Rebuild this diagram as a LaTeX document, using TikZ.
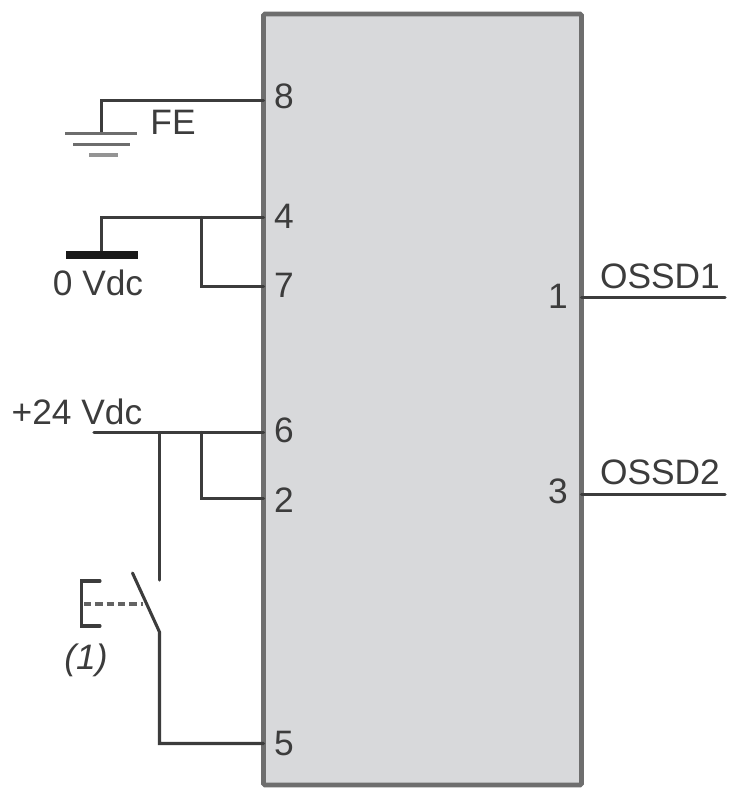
\documentclass[tikz,border=0pt]{standalone}
\usepackage{fontspec}
\setmainfont{Liberation Sans}
\definecolor{ink}{HTML}{3C3C3C}
\definecolor{boxfill}{HTML}{D8D9DB}
\definecolor{boxline}{HTML}{6E6E6E}
\tikzset{
  wire/.style={draw=ink,line width=2.3pt,line cap=round,line join=miter},
  thinplate/.style={draw=ink!75,line width=2.6pt},
  lbl/.style={inner sep=0pt,text=ink,font=\fontsize{26.5}{26.5}\selectfont,anchor=base},
  pin/.style={lbl}
}
\begin{document}
\begin{tikzpicture}[x=0.75pt,y=-0.75pt]
\useasboundingbox (0,0) rectangle (738,800);
\fill[white] (0,0) rectangle (738,800);
\node[draw=boxline,fill=boxfill,line width=3.4pt,rounded corners=1pt,minimum width=238.5pt,minimum height=578.25pt,inner sep=0pt,outer sep=0pt,anchor=north west] (unit) at (263.5,14) {};
% pin coordinates on the box edge
\coordinate (p8) at (263.5,100.5);
\coordinate (p4) at (263.5,217.5);
\coordinate (p7) at (263.5,286.5);
\coordinate (p6) at (263.5,432.5);
\coordinate (p2) at (263.5,498.5);
\coordinate (p5) at (263.5,743.5);
\coordinate (p1) at (581.5,297.5);
\coordinate (p3) at (581.5,494.5);
% pin numbers
\node[pin] (n8) at (284,108) {8};
\node[pin] (n4) at (284,228) {4};
\node[pin] (n7) at (284,297) {7};
\node[pin] (n6) at (284,442) {6};
\node[pin] (n2) at (284,512) {2};
\node[pin] (n5) at (284,755) {5};
\node[pin] (n1) at (558,308) {1};
\node[pin] (n3) at (558,503) {3};
% free ends and junctions
\coordinate (fe) at (101.5,133);
\coordinate (zero) at (101.5,255);
\coordinate (j47) at (201.5,217.5);
\coordinate (j62) at (201.5,432.5);
\coordinate (j6s) at (159.5,432.5);
\coordinate (sup) at (94,432.5);
\coordinate (swt) at (159.5,580);
\coordinate (swb) at (159.5,632);
\coordinate (swf) at (132.5,573);
\coordinate (o1) at (725,297.5);
\coordinate (o2) at (725,494.5);
% FE
\draw[wire] (p8) -- (p8 -| fe) -- (fe);
\draw[thinplate] (65,133.5) -- (137,133.5);
\draw[thinplate] (73,144.5) -- (130,144.5);
\draw[thinplate,draw=ink!55] (89,155) -- (118,155);
\node[lbl] (felbl) at (173,134) {FE};
% 0 Vdc
\draw[wire] (p4) -- (p4 -| zero) -- (zero);
\draw[wire] (j47) |- (p7);
\fill[black!90] (66,251) rectangle (138,259);
\node[lbl] (zerolbl) at (98,295) {0 Vdc};
% +24 Vdc
\draw[wire] (sup) -- (p6);
\draw[wire] (j62) |- (p2);
\draw[wire] (j6s) -- (swt);
\node[lbl] (suplbl) at (77,424) {+24 Vdc};
% switch
\draw[wire] (swf) -- (swb) -- (swb |- p5) -- (p5);
\draw[wire,draw=ink!80,dash pattern=on 5.5pt off 3pt,line cap=butt] (84,604) -- (143,604);
\draw[wire] (100,581) -- (81.5,581) -- (81.5,626) -- (100,626);
\node[lbl,font=\fontsize{26.5}{26.5}\selectfont\itshape] (note) at (86,669) {(1)};
% outputs
\draw[wire] (p1) -- (o1);
\draw[wire] (p3) -- (o2);
\node[lbl] (oss1) at (660,288) {OSSD1};
\node[lbl] (oss2) at (660,484) {OSSD2};
\end{tikzpicture}
\end{document}
